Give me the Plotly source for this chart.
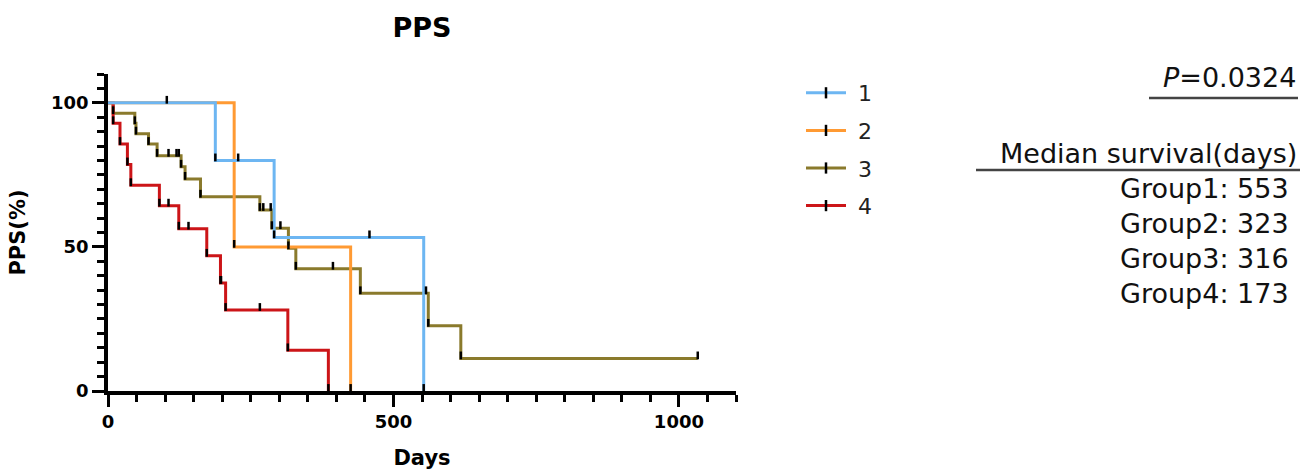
import plotly.graph_objects as go

# ---------------- data ----------------
group_names = ["1", "2", "3", "4"]
colors = ["#6DB6F2", "#FF9A33", "#8A7A2C", "#CC1518"]

# days at which the curve steps down, and survival (%) after the step
g1_death_days = [188, 291, 553]
g1_death_surv = [80.0, 53.3, 0.0]
g1_cens_days = [103, 228, 458]

g2_death_days = [221, 425]
g2_death_surv = [50.0, 0.0]
g2_cens_days = []

g3_death_days = [9, 47, 49, 71, 86, 128, 135, 162, 266, 287, 316, 329, 442, 561, 618]
g3_death_surv = [96.4, 92.9, 89.3, 85.7, 81.6, 77.8, 73.6, 67.4, 62.8, 56.5, 49.5, 42.4, 33.9, 22.6, 11.3]
g3_cens_days = [106, 120, 124, 272, 285, 302, 394, 557, 1033]

g4_death_days = [9, 21, 34, 40, 90, 124, 173, 197, 206, 315, 386]
g4_death_surv = [92.9, 85.7, 78.6, 71.4, 64.3, 56.3, 46.9, 37.5, 28.1, 14.1, 0.0]
g4_cens_days = [106, 141, 198, 266]

p_value_text = "<i>P</i>=0.0324"
median_title = "Median survival(days)"
median_labels = ["Group1: 553", "Group2: 323", "Group3: 316", "Group4: 173"]

groups = [
    (g1_death_days, g1_death_surv, g1_cens_days),
    (g2_death_days, g2_death_surv, g2_cens_days),
    (g3_death_days, g3_death_surv, g3_cens_days),
    (g4_death_days, g4_death_surv, g4_cens_days),
]

FONT = "DejaVu Sans"
TICK_H = 2.4  # height of the censor / event tick, in % units


def level_at(t, ddays, dsurv):
    lev = 100.0
    for d, s in zip(ddays, dsurv):
        if d <= t:
            lev = s
    return lev


fig = go.Figure()

draw_order = [2, 3, 1, 0]
for gi in draw_order:
    ddays, dsurv, cdays = groups[gi]
    xs = [0] + list(ddays)
    ys = [100.0] + list(dsurv)
    last = max(list(ddays) + list(cdays))
    if last > xs[-1]:
        xs.append(last)
        ys.append(ys[-1])
    fig.add_trace(go.Scatter(
        x=xs, y=ys, mode="lines", line=dict(color=colors[gi], width=3, shape="hv"),
        showlegend=False, hoverinfo="skip"))

# event and censor tick marks
for gi in draw_order:
    ddays, dsurv, cdays = groups[gi]
    pts = list(zip(ddays, dsurv)) + [(c, level_at(c, ddays, dsurv)) for c in cdays]
    tx, ty = [], []
    for t, s in pts:
        tx += [t, t, None]
        ty += [s - 0.3, s + TICK_H, None]
    fig.add_trace(go.Scatter(
        x=tx, y=ty, mode="lines", line=dict(color="black", width=2.5),
        showlegend=False, hoverinfo="skip"))

# legend entries
for gi, name in enumerate(group_names):
    fig.add_trace(go.Scatter(
        x=[None], y=[None], mode="lines+markers", name=" " + name, legendgroup=name,
        line=dict(color=colors[gi], width=3),
        marker=dict(symbol="line-ns", size=8, color="black",
                    line=dict(color="black", width=2.5))))

L, R, T, B = 108, 576, 74, 80
W, H = 1312, 471
pw = W - L - R
ph = H - T - B


def px_x(x):
    return (x - L) / pw


def px_y(y):
    return (H - B - y) / ph


fig.update_layout(
    template="none",
    width=W, height=H,
    margin=dict(l=L, r=R, t=T, b=B, autoexpand=False),
    paper_bgcolor="white", plot_bgcolor="white",
    font=dict(family=FONT, color="black"),
    title=dict(text="<b>PPS</b>", x=px_x(422), xref="paper", xanchor="center",
               y=1 - 28 / H, yref="container", yanchor="middle",
               font=dict(family=FONT, size=27, color="black")),
    legend=dict(x=px_x(801), y=px_y(72), xanchor="left", yanchor="top",
                font=dict(family=FONT, size=22, color="#222"),
                tracegroupgap=6, itemwidth=40, bgcolor="rgba(0,0,0,0)"),
    showlegend=True,
)

fig.update_xaxes(
    range=[0, 1100], tickmode="linear", tick0=0, dtick=500, automargin=False,
    showline=True, linecolor="black", linewidth=3.5,
    ticks="outside", ticklen=12, tickwidth=3, tickcolor="black",
    minor=dict(ticks="outside", dtick=50, tick0=0, ticklen=7, tickwidth=2.5, tickcolor="black"),
    showgrid=False, zeroline=False,
    tickfont=dict(family=FONT, size=18, color="black", weight="bold"),
    title=dict(text="<b>Days</b>", font=dict(family=FONT, size=21, color="black"), standoff=20),
)
fig.update_yaxes(
    range=[0, 110], tickmode="linear", tick0=0, dtick=50, automargin=False,
    showline=True, linecolor="black", linewidth=3.5,
    ticks="outside", ticklen=12, tickwidth=3, tickcolor="black",
    minor=dict(ticks="outside", dtick=5, tick0=0, ticklen=7, tickwidth=2.5, tickcolor="black"),
    showgrid=False, zeroline=False,
    tickfont=dict(family=FONT, size=18, color="black", weight="bold"),
    title=dict(text="<b>PPS(%)</b>", font=dict(family=FONT, size=21, color="black"), standoff=21),
)

# right-hand text block
TXT = 27
fig.add_annotation(text=p_value_text, xref="paper", yref="paper",
                   x=px_x(1298), y=px_y(77), xanchor="right", yanchor="middle",
                   showarrow=False, font=dict(family=FONT, size=TXT, color="#111"))
fig.add_shape(type="line", xref="paper", yref="paper",
              x0=px_x(1149), x1=px_x(1298), y0=px_y(98), y1=px_y(98),
              line=dict(color="#444", width=2.5))
fig.add_annotation(text=median_title, xref="paper", yref="paper",
                   x=px_x(1299), y=px_y(153), xanchor="right", yanchor="middle",
                   showarrow=False, font=dict(family=FONT, size=TXT, color="#111"))
fig.add_shape(type="line", xref="paper", yref="paper",
              x0=px_x(976), x1=px_x(1300), y0=px_y(170), y1=px_y(170),
              line=dict(color="#444", width=2.5))
for i, lab in enumerate(median_labels):
    fig.add_annotation(text=lab, xref="paper", yref="paper",
                       x=px_x(1291), y=px_y(188 + 35 * i), xanchor="right", yanchor="middle",
                       showarrow=False, font=dict(family=FONT, size=TXT, color="#111"))

fig.write_html("out.html", config={"displayModeBar": False},
               post_script="document.body.style.margin='0px';document.body.style.overflow='hidden';")
